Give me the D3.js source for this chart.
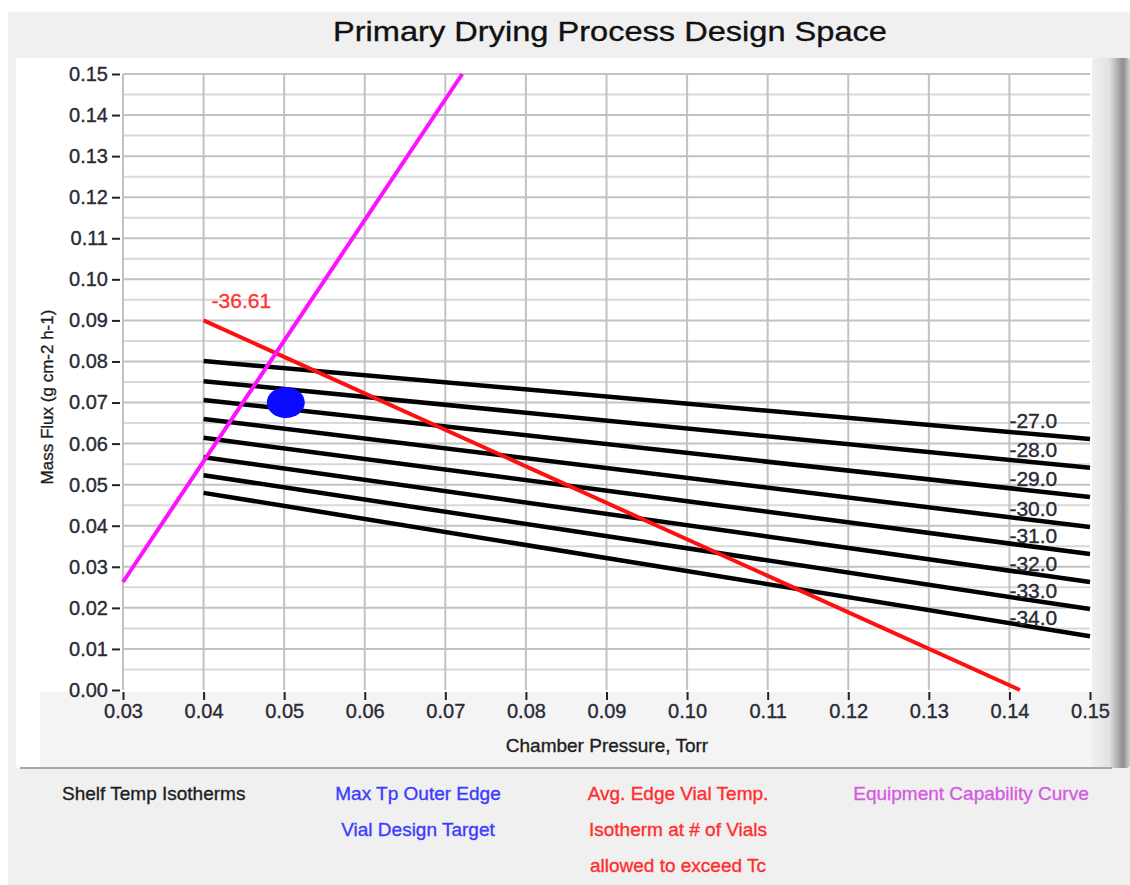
<!DOCTYPE html>
<html>
<head>
<meta charset="utf-8">
<script src="https://cdn.jsdelivr.net/npm/d3@7"></script>
<style>
  html, body { margin: 0; padding: 0; background: #ffffff; }
  svg { display: block; }
  text { font-family: "Liberation Sans", Arial, sans-serif; stroke-width: 0.35px; }
</style>
</head>
<body>
<svg id="chart" width="1130" height="885"></svg>
<script>
// Axis ticks
const xTicks = [0.03, 0.04, 0.05, 0.06, 0.07, 0.08, 0.09, 0.10, 0.11, 0.12, 0.13, 0.14, 0.15];
const yTicks = [0.00, 0.01, 0.02, 0.03, 0.04, 0.05, 0.06, 0.07, 0.08, 0.09, 0.10, 0.11, 0.12, 0.13, 0.14, 0.15];
const yMinorTicks = [0.005, 0.015, 0.025, 0.035, 0.045, 0.055, 0.065, 0.075, 0.085, 0.095, 0.105, 0.115, 0.125, 0.135, 0.145];

// Shelf temperature isotherms (mass flux at 0.04 and 0.15 Torr)
const isothermPressure = [0.04, 0.15];
const isothermLabels = ["-27.0", "-28.0", "-29.0", "-30.0", "-31.0", "-32.0", "-33.0", "-34.0"];
const isothermFluxStart = [0.0801, 0.0752, 0.0706, 0.0660, 0.0614, 0.0567, 0.0523, 0.0480];
const isothermFluxEnd = [0.0611, 0.0541, 0.0470, 0.0397, 0.0331, 0.0263, 0.0197, 0.0131];

// Average edge vial temperature isotherm
const edgeIsothermLabel = "-36.61";
const edgePressure = [0.04, 0.1413];
const edgeFlux = [0.090, 0.000];

// Equipment capability curve
const capabilityPressure = [0.03, 0.0721];
const capabilityFlux = [0.0263, 0.150];

// Vial design target
const targetPressure = [0.0502];
const targetFlux = [0.0700];

// Legend
const legendItems = [
  { lines: ["Shelf Temp Isotherms"], color: "#1e1e1e", x: 62, anchor: "start" },
  { lines: ["Max Tp Outer Edge", "Vial Design Target"], color: "#3c3cff", x: 418, anchor: "middle" },
  { lines: ["Avg. Edge Vial Temp.", "Isotherm at # of Vials", "allowed to exceed Tc"], color: "#ff2e2e", x: 678, anchor: "middle" },
  { lines: ["Equipment Capability Curve"], color: "#d35ce0", x: 971, anchor: "middle" }
];

const svg = d3.select("#chart");

// Window panels
svg.append("rect").attr("x", 8).attr("y", 12).attr("width", 1122).attr("height", 873).attr("fill", "#f0f0f0");
svg.append("rect").attr("x", 16).attr("y", 58).attr("width", 1094).attr("height", 710).attr("fill", "#ffffff");
svg.append("rect").attr("x", 40).attr("y", 692).attr("width", 1052).attr("height", 75).attr("fill", "#f4f4f4");

// Right-hand bevel
const grad = svg.append("defs").append("linearGradient").attr("id", "bevel").attr("x1", "0").attr("x2", "1");
grad.append("stop").attr("offset", "0").attr("stop-color", "#f0f0f0");
grad.append("stop").attr("offset", "0.45").attr("stop-color", "#e2e2e2");
grad.append("stop").attr("offset", "0.82").attr("stop-color", "#8e8e8e");
grad.append("stop").attr("offset", "1").attr("stop-color", "#cfcfcf");
svg.append("rect").attr("x", 1092).attr("y", 58).attr("width", 38).attr("height", 710).attr("rx", 4).attr("fill", "url(#bevel)");
svg.append("line").attr("x1", 20).attr("x2", 1112).attr("y1", 768).attr("y2", 768).attr("stroke", "#a8a8a8").attr("stroke-width", 2);

// Title
svg.append("text").attr("x", 610).attr("y", 41).attr("text-anchor", "middle")
  .attr("font-size", 28).attr("fill", "#111").attr("stroke", "#111")
  .attr("textLength", 554).attr("lengthAdjust", "spacingAndGlyphs")
  .text("Primary Drying Process Design Space");

// Scales
const x = d3.scaleLinear().domain([0.03, 0.15]).range([123, 1090]);
const y = d3.scaleLinear().domain([0, 0.15]).range([690, 74]);

// Grid
const grid = svg.append("g");
grid.selectAll(".minor").data(yMinorTicks).join("line")
  .attr("x1", x(0.03)).attr("x2", x(0.15))
  .attr("y1", d => y(d)).attr("y2", d => y(d))
  .attr("stroke", "#d9d9d9").attr("stroke-width", 2);
grid.selectAll(".major").data(yTicks.filter(d => d > 0)).join("line")
  .attr("x1", x(0.03)).attr("x2", x(0.15))
  .attr("y1", d => y(d)).attr("y2", d => y(d))
  .attr("stroke", "#c2c2c2").attr("stroke-width", 2);
grid.selectAll(".vert").data(xTicks.filter(d => d < 0.15)).join("line")
  .attr("x1", d => x(d)).attr("x2", d => x(d))
  .attr("y1", y(0.15)).attr("y2", y(0))
  .attr("stroke", "#c2c2c2").attr("stroke-width", 2);

// Axes
const tickColor = "#2a2a35";
const yAxis = d3.axisLeft(y).tickValues(yTicks).tickFormat(d3.format(".2f")).tickSize(8).tickPadding(4);
const yg = svg.append("g").attr("transform", `translate(${x(0.03) - 3},0)`).call(yAxis);
yg.select(".domain").remove();
yg.selectAll(".tick line").attr("stroke", "#222").attr("stroke-width", 2);
yg.selectAll(".tick text").attr("font-size", 20).attr("fill", tickColor).attr("stroke", tickColor)
  .attr("font-family", "Liberation Sans, Arial, sans-serif");

const xAxis = d3.axisBottom(x).tickValues(xTicks).tickFormat(d3.format(".2f")).tickSize(8).tickPadding(4);
const xg = svg.append("g").attr("transform", `translate(0,${y(0) + 2})`).call(xAxis);
xg.select(".domain").remove();
xg.selectAll(".tick line").attr("stroke", "#222").attr("stroke-width", 2);
xg.selectAll(".tick text").attr("font-size", 20).attr("fill", tickColor).attr("stroke", tickColor)
  .attr("font-family", "Liberation Sans, Arial, sans-serif");

// Axis titles
svg.append("text").attr("x", 607).attr("y", 752).attr("text-anchor", "middle")
  .attr("font-size", 19).attr("fill", "#1e1e1e").attr("stroke", "#1e1e1e").text("Chamber Pressure, Torr");
svg.append("text").attr("transform", "translate(53,397) rotate(-90)").attr("text-anchor", "middle")
  .attr("font-size", 17).attr("fill", "#1e1e1e").attr("stroke", "#1e1e1e").text("Mass Flux (g cm-2 h-1)");

// Plot contents
const plot = svg.append("g");
const line = d3.line().x(d => x(d[0])).y(d => y(d[1]));

// Shelf isotherms
const isotherms = isothermLabels.map((label, i) => ({
  label,
  pts: [[isothermPressure[0], isothermFluxStart[i]], [isothermPressure[1], isothermFluxEnd[i]]]
}));
plot.selectAll(".iso").data(isotherms).join("path")
  .attr("d", d => line(d.pts)).attr("fill", "none").attr("stroke", "#000").attr("stroke-width", 4.5);
plot.selectAll(".isoLabel").data(isotherms).join("text")
  .attr("x", x(0.14)).attr("y", d => y(d.pts[1][1]) - 11)
  .attr("font-size", 21).attr("fill", tickColor).attr("stroke", tickColor).text(d => d.label);

// Edge vial isotherm
const edgePts = edgePressure.map((p, i) => [p, edgeFlux[i]]);
plot.append("path").attr("d", line(edgePts)).attr("fill", "none").attr("stroke", "#ff1010").attr("stroke-width", 4);
plot.append("text").attr("x", x(edgePts[0][0]) + 8).attr("y", y(edgePts[0][1]) - 12)
  .attr("font-size", 21).attr("fill", "#ff3434").attr("stroke", "#ff3434").text(edgeIsothermLabel);

// Equipment capability curve
const capPts = capabilityPressure.map((p, i) => [p, capabilityFlux[i]]);
plot.append("path").attr("d", line(capPts)).attr("fill", "none").attr("stroke", "#ff10ff").attr("stroke-width", 4);

// Design target
plot.selectAll(".target").data(targetPressure.map((p, i) => [p, targetFlux[i]])).join("ellipse")
  .attr("cx", d => x(d[0])).attr("cy", d => y(d[1])).attr("rx", 19).attr("ry", 15.5).attr("fill", "#0a0aff");

// Legend
const lg = svg.append("g");
legendItems.forEach(item => {
  item.lines.forEach((t, j) => {
    lg.append("text").attr("x", item.x).attr("y", 800 + j * 36).attr("text-anchor", item.anchor)
      .attr("font-size", 19).attr("fill", item.color).attr("stroke", item.color).text(t);
  });
});
</script>
</body>
</html>
